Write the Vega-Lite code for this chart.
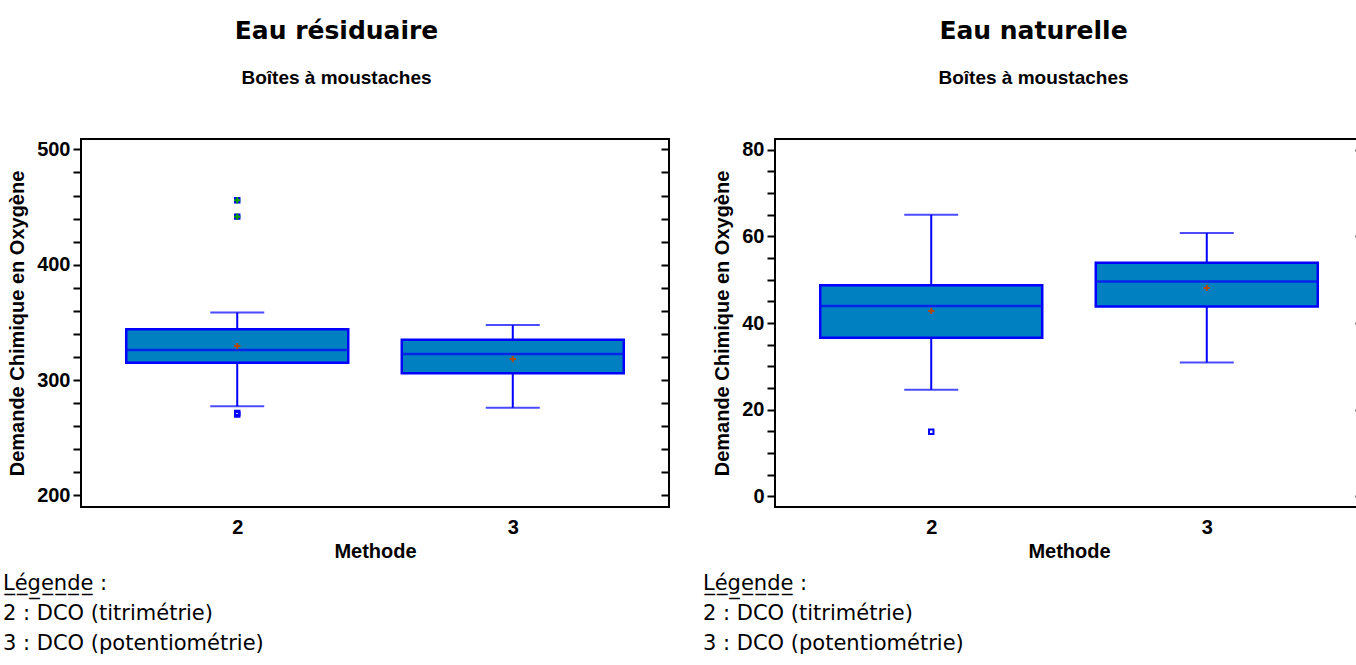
{
  "$schema": "https://vega.github.io/schema/vega-lite/v6.json",
  "background": "white",
  "padding": {"left": 2, "top": 19, "right": 0, "bottom": 0},
  "config": {
    "view": {"stroke": "black", "strokeWidth": 2},
    "axis": {"grid": false},
    "concat": {"spacing": 31}
  },
  "datasets": {
    "leftStats": [
      {"Methode": "2", "lower": 277.3, "q1": 315, "median": 326, "q3": 344, "upper": 358.6, "mean": 329.5},
      {"Methode": "3", "lower": 276, "q1": 306, "median": 322.6, "q3": 335, "upper": 347.7, "mean": 318.3}
    ],
    "leftOut": [
      {"Methode": "2", "value": 455.9, "kind": "far"},
      {"Methode": "2", "value": 441.7, "kind": "far"},
      {"Methode": "2", "value": 271.6, "kind": "near"},
      {"Methode": "2", "value": 270.2, "kind": "near"}
    ],
    "rightStats": [
      {"Methode": "2", "lower": 24.6, "q1": 36.6, "median": 43.9, "q3": 48.7, "upper": 65.0, "mean": 42.8},
      {"Methode": "3", "lower": 30.9, "q1": 43.8, "median": 49.6, "q3": 53.9, "upper": 60.8, "mean": 48.1}
    ],
    "rightOut": [
      {"Methode": "2", "value": 14.9, "kind": "near"}
    ]
  },
  "hconcat": [
    {
      "title": {"text": "Eau résiduaire", "subtitle": "Boîtes à moustaches", "anchor": "middle", "frame": "bounds", "font": "DejaVu Sans", "fontSize": 25, "fontWeight": "bold", "color": "black", "subtitleFont": "Liberation Sans", "subtitleFontSize": 19, "subtitleFontWeight": "bold", "subtitleColor": "black", "subtitlePadding": 25, "offset": 50},
      "vconcat": [
        {
          "width": 588,
          "height": 368,
          "title": {"text": ["L̲é̲g̲e̲n̲d̲e̲ :", "2 : DCO (titrimétrie)", "3 : DCO (potentiométrie)"], "orient": "bottom", "anchor": "start", "frame": "group", "dx": -78, "offset": 12, "font": "DejaVu Sans", "fontSize": 21, "fontWeight": "normal", "lineHeight": 30, "color": "black"},
          "encoding": {
            "x": {"field": "Methode", "type": "nominal", "scale": {"type": "point", "domain": ["2", "3"], "padding": 0.567},
              "axis": {"title": "Methode", "ticks": false, "domain": false, "labelAngle": 0, "labelFont": "Liberation Sans", "labelFontSize": 20, "labelFontWeight": "bold", "labelColor": "black", "labelPadding": 10, "titleFont": "Liberation Sans", "titleFontSize": 20, "titleFontWeight": "bold", "titleColor": "black", "titlePadding": 4}}
          },
          "resolve": {"axis": {"y": "independent"}},
          "layer": [
            {
              "data": {"name": "leftStats"},
              "mark": {"type": "rule", "color": "#0000ff", "strokeWidth": 2},
              "encoding": {
                "y": {"field": "lower", "type": "quantitative", "scale": {"domain": [190, 509], "nice": false, "zero": false},
                  "axis": {"orient": "left", "title": "Demande Chimique en Oxygène", "values": [200, 220, 240, 260, 280, 300, 320, 340, 360, 380, 400, 420, 440, 460, 480, 500], "labelExpr": "datum.value % 100 === 0 ? datum.label : ''", "tickSize": 8, "tickWidth": 2, "tickColor": "black", "domain": false, "labelFont": "Liberation Sans", "labelFontSize": 20, "labelFontWeight": "bold", "labelColor": "black", "labelPadding": 3, "titleFont": "Liberation Sans", "titleFontSize": 20, "titleFontWeight": "bold", "titleColor": "black", "titlePadding": 9}},
                "y2": {"field": "upper"}
              }
            },
            {
              "data": {"name": "leftStats"},
              "mark": {"type": "bar", "width": 222, "fill": "#0080c0", "stroke": "#0000ff", "strokeWidth": 2.5},
              "encoding": {
                "y": {"field": "q1", "type": "quantitative",
                  "axis": {"orient": "right", "title": null, "labels": false, "values": [200, 220, 240, 260, 280, 300, 320, 340, 360, 380, 400, 420, 440, 460, 480, 500], "tickSize": -8, "tickWidth": 2, "tickColor": "black", "domain": false}},
                "y2": {"field": "q3"}
              }
            },
            {
              "data": {"name": "leftStats"},
              "mark": {"type": "tick", "color": "#0000ff", "size": 222, "thickness": 2.5},
              "encoding": {"y": {"field": "median", "type": "quantitative", "axis": null}}
            },
            {
              "data": {"name": "leftStats"},
              "mark": {"type": "tick", "color": "#0000ff", "size": 54, "thickness": 2},
              "encoding": {"y": {"field": "upper", "type": "quantitative", "axis": null}}
            },
            {
              "data": {"name": "leftStats"},
              "mark": {"type": "tick", "color": "#0000ff", "size": 54, "thickness": 2},
              "encoding": {"y": {"field": "lower", "type": "quantitative", "axis": null}}
            },
            {
              "data": {"name": "leftStats"},
              "mark": {"type": "point", "shape": "M-1,0L1,0M0,-1L0,1", "size": 40, "filled": false, "stroke": "#b0480c", "strokeWidth": 2, "opacity": 1},
              "encoding": {"y": {"field": "mean", "type": "quantitative", "axis": null}}
            },
            {
              "data": {"name": "leftOut"},
              "mark": {"type": "point", "shape": "square", "size": 20, "filled": false, "stroke": "#0000ff", "strokeWidth": 2, "opacity": 1},
              "encoding": {"y": {"field": "value", "type": "quantitative", "axis": null}}
            },
            {
              "data": {"name": "leftOut"},
              "transform": [{"filter": "datum.kind === 'far'"}],
              "mark": {"type": "point", "shape": "M-1,0L1,0M0,-1L0,1", "size": 40, "filled": false, "stroke": "#00a000", "strokeWidth": 2, "opacity": 1},
              "encoding": {"y": {"field": "value", "type": "quantitative", "axis": null}}
            }
          ]
        }
      ]
    },
    {
      "title": {"text": "Eau naturelle", "subtitle": "Boîtes à moustaches", "anchor": "middle", "frame": "bounds", "font": "DejaVu Sans", "fontSize": 25, "fontWeight": "bold", "color": "black", "subtitleFont": "Liberation Sans", "subtitleFontSize": 19, "subtitleFontWeight": "bold", "subtitleColor": "black", "subtitlePadding": 25, "offset": 50},
      "vconcat": [
        {
          "width": 588,
          "height": 368,
          "title": {"text": ["L̲é̲g̲e̲n̲d̲e̲ :", "2 : DCO (titrimétrie)", "3 : DCO (potentiométrie)"], "orient": "bottom", "anchor": "start", "frame": "group", "dx": -72, "offset": 12, "font": "DejaVu Sans", "fontSize": 21, "fontWeight": "normal", "lineHeight": 30, "color": "black"},
          "encoding": {
            "x": {"field": "Methode", "type": "nominal", "scale": {"type": "point", "domain": ["2", "3"], "padding": 0.567},
              "axis": {"title": "Methode", "ticks": false, "domain": false, "labelAngle": 0, "labelFont": "Liberation Sans", "labelFontSize": 20, "labelFontWeight": "bold", "labelColor": "black", "labelPadding": 10, "titleFont": "Liberation Sans", "titleFontSize": 20, "titleFontWeight": "bold", "titleColor": "black", "titlePadding": 4}}
          },
          "resolve": {"axis": {"y": "independent"}},
          "layer": [
            {
              "data": {"name": "rightStats"},
              "mark": {"type": "rule", "color": "#0000ff", "strokeWidth": 2},
              "encoding": {
                "y": {"field": "lower", "type": "quantitative", "scale": {"domain": [-2.5, 82.5], "nice": false, "zero": false},
                  "axis": {"orient": "left", "title": "Demande Chimique en Oxygène", "values": [0, 5, 10, 15, 20, 25, 30, 35, 40, 45, 50, 55, 60, 65, 70, 75, 80], "labelExpr": "datum.value % 20 === 0 ? datum.label : ''", "tickSize": 8, "tickWidth": 2, "tickColor": "black", "domain": false, "labelFont": "Liberation Sans", "labelFontSize": 20, "labelFontWeight": "bold", "labelColor": "black", "labelPadding": 3, "titleFont": "Liberation Sans", "titleFontSize": 20, "titleFontWeight": "bold", "titleColor": "black", "titlePadding": 9}},
                "y2": {"field": "upper"}
              }
            },
            {
              "data": {"name": "rightStats"},
              "mark": {"type": "bar", "width": 222, "fill": "#0080c0", "stroke": "#0000ff", "strokeWidth": 2.5},
              "encoding": {
                "y": {"field": "q1", "type": "quantitative",
                  "axis": {"orient": "right", "title": null, "labels": false, "values": [0, 20, 40, 60, 80], "tickSize": -8, "tickWidth": 2, "tickColor": "black", "domain": false}},
                "y2": {"field": "q3"}
              }
            },
            {
              "data": {"name": "rightStats"},
              "mark": {"type": "tick", "color": "#0000ff", "size": 222, "thickness": 2.5},
              "encoding": {"y": {"field": "median", "type": "quantitative", "axis": null}}
            },
            {
              "data": {"name": "rightStats"},
              "mark": {"type": "tick", "color": "#0000ff", "size": 54, "thickness": 2},
              "encoding": {"y": {"field": "upper", "type": "quantitative", "axis": null}}
            },
            {
              "data": {"name": "rightStats"},
              "mark": {"type": "tick", "color": "#0000ff", "size": 54, "thickness": 2},
              "encoding": {"y": {"field": "lower", "type": "quantitative", "axis": null}}
            },
            {
              "data": {"name": "rightStats"},
              "mark": {"type": "point", "shape": "M-1,0L1,0M0,-1L0,1", "size": 40, "filled": false, "stroke": "#b0480c", "strokeWidth": 2, "opacity": 1},
              "encoding": {"y": {"field": "mean", "type": "quantitative", "axis": null}}
            },
            {
              "data": {"name": "rightOut"},
              "mark": {"type": "point", "shape": "square", "size": 20, "filled": false, "stroke": "#0000ff", "strokeWidth": 2, "opacity": 1},
              "encoding": {"y": {"field": "value", "type": "quantitative", "axis": null}}
            }
          ]
        }
      ]
    }
  ]
}
